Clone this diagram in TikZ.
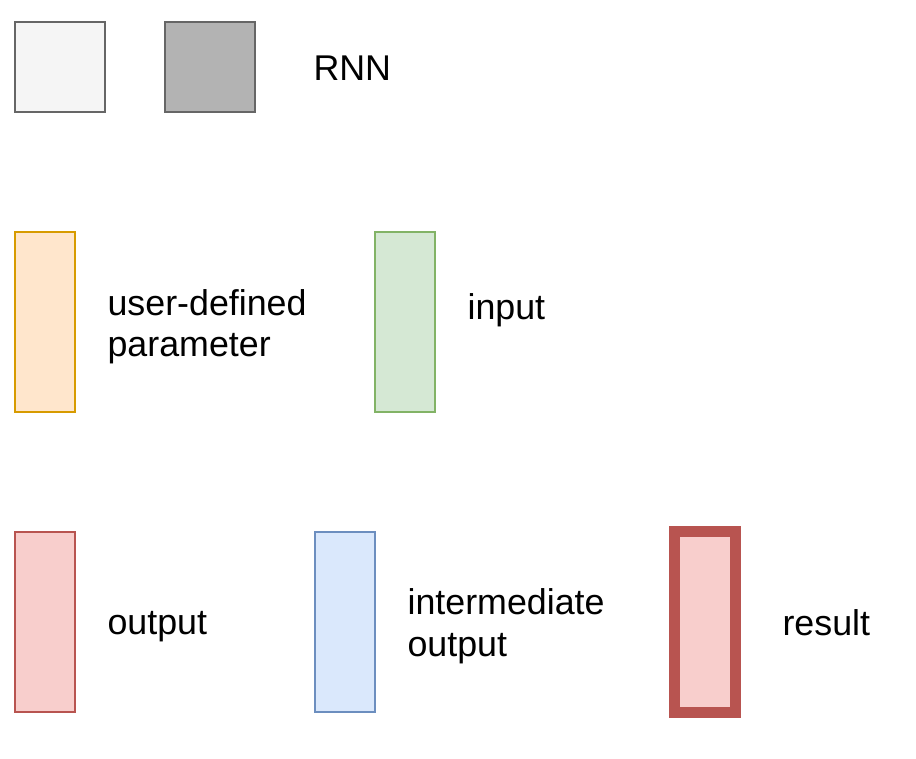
\documentclass[tikz,border=0pt]{standalone}
\usepackage{fontspec}
\setmainfont{Liberation Sans}
\usepackage{tikz}
\usetikzlibrary{positioning}

\definecolor{grayline}{HTML}{666666}
\definecolor{grayfill}{HTML}{F5F5F5}
\definecolor{darkfill}{HTML}{B3B3B3}
\definecolor{orangeline}{HTML}{D79B00}
\definecolor{orangefill}{HTML}{FFE6CC}
\definecolor{greenline}{HTML}{82B366}
\definecolor{greenfill}{HTML}{D5E8D4}
\definecolor{redline}{HTML}{B85450}
\definecolor{redfill}{HTML}{F8CECC}
\definecolor{blueline}{HTML}{6C8EBF}
\definecolor{bluefill}{HTML}{DAE8FC}

\begin{document}
\begin{tikzpicture}[x=1pt,y=-1pt,line width=1.1pt,
	box/.style={draw,rectangle,inner sep=0pt},
	label/.style={anchor=base west,inner sep=0pt,align=left,font=\fontsize{35.8}{42}\selectfont}]
			\useasboundingbox (0,0) rectangle (916,759);

			\node[box,draw=grayline,fill=grayfill,minimum width=90pt,minimum height=90pt] (b1) at (60,67) {};
			\node[box,draw=grayline,fill=darkfill,minimum width=90pt,minimum height=90pt] (b2) at (210,67) {};
			\node[label] (t1) at (313,81) {RNN};

			\node[box,draw=orangeline,fill=orangefill,minimum width=60pt,minimum height=180pt] (b3) at (45,322) {};
			\node[label] (t2) at (107,357) {user-defined\\parameter};
			\node[box,draw=greenline,fill=greenfill,minimum width=60pt,minimum height=180pt] (b4) at (405,322) {};
			\node[label] (t3) at (467,320) {input};

			\node[box,draw=redline,fill=redfill,minimum width=60pt,minimum height=180pt] (b5) at (45,622) {};
			\node[label] (t4) at (107,634) {output};
			\node[box,draw=blueline,fill=bluefill,minimum width=60pt,minimum height=180pt] (b6) at (345,622) {};
			\node[label] (t5) at (407,656) {intermediate\\output};
			\node[box,draw=redline,fill=redfill,line width=11.5pt,minimum width=61pt,minimum height=181pt] (b7) at (705,622) {};
			\node[label] (t6) at (782,635) {result};
		\end{tikzpicture}
\end{document}
